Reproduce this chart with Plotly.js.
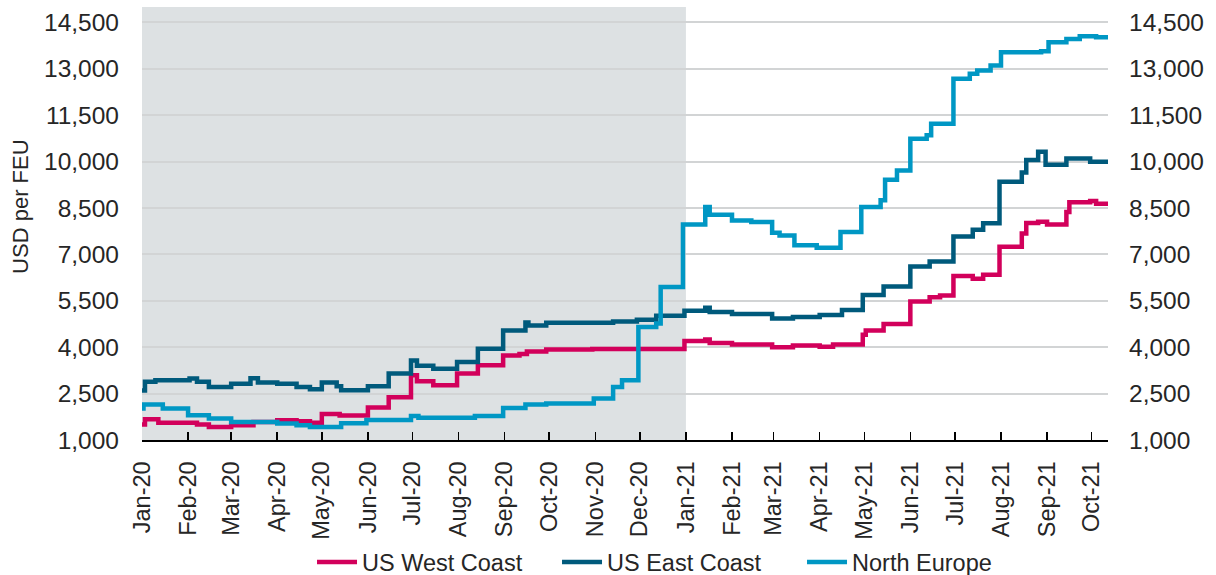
<!DOCTYPE html>
<html>
<head>
<meta charset="utf-8">
<script src="https://cdn.plot.ly/plotly-3.0.1.min.js"></script>
<style>
  html, body { margin: 0; padding: 0; background: #ffffff; }
  #chart { width: 1216px; height: 575px; }
</style>
</head>
<body>
<div id="chart"></div>
<script>
// Spot container rates, USD per FEU (step changes: date the rate moved, new rate)
const westDates = [
  '2020-01-01','2020-01-03','2020-01-12','2020-02-07','2020-02-15','2020-03-01','2020-03-16',
  '2020-04-01','2020-04-14','2020-04-23','2020-05-01','2020-05-13','2020-06-01','2020-06-15',
  '2020-06-30','2020-07-04','2020-07-15','2020-07-31','2020-08-14','2020-08-31','2020-09-11',
  '2020-09-16','2020-09-29','2020-10-30','2020-12-31','2021-01-14','2021-01-17','2021-02-01',
  '2021-02-28','2021-03-14','2021-04-01','2021-04-10','2021-04-30','2021-05-02','2021-05-14',
  '2021-06-01','2021-06-14','2021-06-21','2021-06-30','2021-07-13','2021-07-20','2021-07-31',
  '2021-08-15','2021-08-18','2021-08-26','2021-09-01','2021-09-14','2021-09-16','2021-09-30',
  '2021-10-04','2021-10-12'
];
const westValues = [
  1500,1670,1560,1500,1420,1476,1585,
  1640,1605,1560,1840,1790,2050,2380,
  3090,2900,2770,3150,3416,3730,3784,
  3860,3925,3946,4200,4250,4140,4086,
  4000,4054,4011,4086,4400,4540,4754,
  5478,5617,5671,6300,6210,6340,7250,
  7680,8015,8060,7970,8370,8690,8730,
  8640,8640
];

const eastDates = [
  '2020-01-01','2020-01-03','2020-01-10','2020-02-02','2020-02-07','2020-02-15','2020-03-01',
  '2020-03-14','2020-03-19','2020-04-01','2020-04-14','2020-04-23','2020-05-01','2020-05-11',
  '2020-05-14','2020-06-01','2020-06-15','2020-06-30','2020-07-04','2020-07-15','2020-07-31',
  '2020-08-14','2020-08-31','2020-09-15','2020-09-17','2020-09-29','2020-11-13','2020-11-29',
  '2020-12-12','2020-12-31','2021-01-14','2021-01-17','2021-02-01','2021-02-28','2021-03-14',
  '2021-04-01','2021-04-16','2021-04-30','2021-05-14','2021-06-01','2021-06-14','2021-06-30',
  '2021-07-13','2021-07-20','2021-07-31','2021-08-15','2021-08-18','2021-08-26','2021-08-31',
  '2021-09-14','2021-09-30','2021-10-12'
];
const eastValues = [
  2600,2880,2930,2985,2880,2715,2820,
  3000,2860,2820,2715,2640,2860,2740,
  2610,2740,3150,3570,3400,3300,3520,
  3950,4540,4800,4700,4790,4830,4890,
  5020,5180,5280,5140,5070,4930,4980,
  5040,5200,5690,5960,6610,6770,7580,
  7800,8010,9350,9650,10050,10320,9900,
  10100,10000,10000
];

const europeDates = [
  '2020-01-01','2020-01-02','2020-01-15','2020-02-01','2020-02-15','2020-03-01','2020-04-01',
  '2020-04-14','2020-04-23','2020-05-14','2020-05-31','2020-06-15','2020-06-30','2020-07-05',
  '2020-08-12','2020-08-31','2020-09-15','2020-09-29','2020-10-31','2020-11-13','2020-11-19',
  '2020-11-30','2020-12-12','2020-12-15','2020-12-30','2021-01-14','2021-01-17','2021-02-01',
  '2021-02-14','2021-02-28','2021-03-05','2021-03-15','2021-03-30','2021-04-15','2021-04-29',
  '2021-05-12','2021-05-15','2021-05-23','2021-06-01','2021-06-12','2021-06-15','2021-06-30',
  '2021-07-11','2021-07-16','2021-07-25','2021-08-01','2021-08-28','2021-09-02','2021-09-14',
  '2021-09-23','2021-10-04','2021-10-12'
];
const europeValues = [
  2015,2144,2015,1800,1692,1584,1530,
  1476,1422,1540,1650,1650,1780,1720,
  1780,2036,2144,2177,2338,2716,2931,
  4656,4765,5950,7970,8530,8284,8100,
  8046,7700,7616,7300,7216,7722,8530,
  8748,9416,9717,10741,10850,11227,12677,
  12838,12946,13108,13539,13570,13860,13968,
  14054,14020,14075
];

const seriesNames = ['US West Coast', 'US East Coast', 'North Europe'];
const yTicks = [1000, 2500, 4000, 5500, 7000, 8500, 10000, 11500, 13000, 14500];

const FONT = 'Liberation Sans, Arial, sans-serif';
const TEXT = '#262626';

function stepTrace(x, y, name, color) {
  return {
    x: x, y: y, name: name, type: 'scatter', mode: 'lines',
    line: { color: color, width: 4.5, shape: 'hv' },
    hoverinfo: 'skip'
  };
}

const data = [
  stepTrace(westDates, westValues, seriesNames[0], '#d2005b'),
  stepTrace(eastDates, eastValues, seriesNames[1], '#005a7c'),
  stepTrace(europeDates, europeValues, seriesNames[2], '#0097c4')
];

// invisible trace so the right-hand axis is drawn
data.push({ x: ['2020-01-01'], y: [1000], yaxis: 'y2', type: 'scatter', mode: 'lines',
  showlegend: false, hoverinfo: 'skip', line: { width: 0 } });

const layout = {
  width: 1216, height: 575,
  margin: { l: 142, r: 108, t: 7, b: 135, autoexpand: false },
  paper_bgcolor: '#ffffff', plot_bgcolor: '#ffffff',
  font: { family: FONT, size: 24, color: TEXT },
  showlegend: true,
  legend: {
    orientation: 'h', x: 0.176, xanchor: 'left', y: -0.282, yanchor: 'middle',
    entrywidth: 190, entrywidthmode: 'pixels', itemwidth: 40,
    font: { family: FONT, size: 23.5, color: TEXT }, bgcolor: 'rgba(0,0,0,0)'
  },
  xaxis: {
    type: 'date', automargin: false,
    range: ['2020-01-01', '2021-10-12'],
    tick0: '2020-01-01', dtick: 'M1', tickformat: '%b-%y',
    tickangle: -90,
    ticks: 'inside', ticklen: 8, tickwidth: 1.5, tickcolor: '#000000',
    showline: true, linecolor: '#000000', linewidth: 2,
    showgrid: false, zeroline: false,
    ticklabelstandoff: 10,
    tickfont: { family: FONT, size: 23.5, color: TEXT }
  },
  yaxis: {
    automargin: false,
    range: [1000, 15000], tickvals: yTicks, tickformat: ',d',
    showgrid: true, gridcolor: '#d2d4d5', gridwidth: 2,
    zeroline: false, showline: false, ticks: '',
    ticklabelstandoff: 22,
    tickfont: { family: FONT, size: 24.5, color: TEXT }
  },
  yaxis2: {
    automargin: false,
    overlaying: 'y', side: 'right',
    range: [1000, 15000], tickvals: yTicks, tickformat: ',d',
    showgrid: false, zeroline: false, showline: false, ticks: '',
    ticklabelstandoff: 20,
    tickfont: { family: FONT, size: 24.5, color: TEXT }
  },
  shapes: [{
    type: 'rect', xref: 'x', yref: 'paper',
    x0: '2020-01-01', x1: '2021-01-01', y0: 0, y1: 1,
    fillcolor: '#dde1e3', line: { width: 0 }, layer: 'below'
  }],
  annotations: [{
    text: 'USD per FEU', xref: 'paper', yref: 'paper',
    x: -0.126, y: 0.539, xanchor: 'center', yanchor: 'middle',
    textangle: -90, showarrow: false,
    font: { family: FONT, size: 22, color: TEXT }
  }]
};

Plotly.newPlot('chart', data, layout, { staticPlot: true, displayModeBar: false });
</script>
</body>
</html>
